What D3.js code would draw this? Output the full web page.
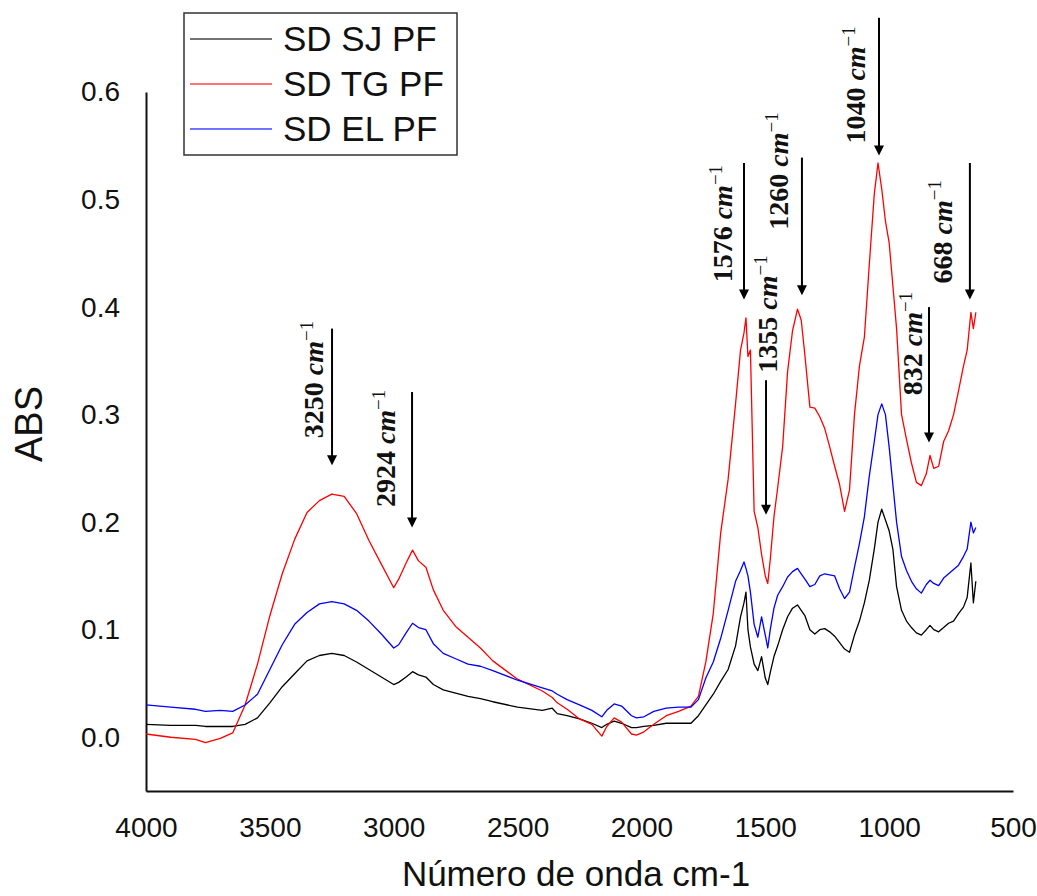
<!DOCTYPE html>
<html>
<head>
<meta charset="utf-8">
<script src="https://cdn.jsdelivr.net/npm/d3@7"></script>
<style>
  body { margin: 0; background: #fff; }
</style>
</head>
<body>
<div id="ftir-chart"></div>
<script>
// Wavenumbers (cm-1) shared by the three spectra
const wavenumbers = [4000, 3900, 3800, 3760, 3700, 3650, 3600, 3550, 3500, 3450, 3400, 3350, 3300, 3250, 3200, 3150, 3100, 3050, 3000, 2980, 2950, 2924, 2900, 2870, 2840, 2800, 2750, 2700, 2650, 2600, 2500, 2400, 2360, 2340, 2300, 2250, 2200, 2160, 2140, 2110, 2080, 2040, 2020, 1990, 1950, 1900, 1850, 1800, 1770, 1740, 1710, 1680, 1650, 1620, 1600, 1586, 1578, 1570, 1560, 1545, 1530, 1515, 1500, 1490, 1480, 1465, 1450, 1430, 1410, 1390, 1370, 1355, 1340, 1320, 1300, 1280, 1260, 1240, 1220, 1200, 1180, 1160, 1140, 1120, 1100, 1080, 1060, 1045, 1030, 1015, 1000, 985, 970, 950, 930, 910, 890, 870, 850, 835, 820, 800, 780, 760, 740, 720, 700, 685, 670, 660, 650];

// Absorbance of each sample
const sdSJ = [0.012, 0.011, 0.011, 0.010, 0.010, 0.010, 0.012, 0.018, 0.032, 0.047, 0.059, 0.071, 0.076, 0.078, 0.076, 0.070, 0.063, 0.056, 0.049, 0.051, 0.056, 0.061, 0.058, 0.056, 0.049, 0.044, 0.041, 0.038, 0.036, 0.033, 0.028, 0.025, 0.027, 0.022, 0.020, 0.017, 0.013, 0.009, 0.012, 0.015, 0.013, 0.009, 0.009, 0.010, 0.011, 0.013, 0.013, 0.013, 0.020, 0.030, 0.040, 0.052, 0.063, 0.085, 0.112, 0.125, 0.135, 0.100, 0.084, 0.068, 0.062, 0.075, 0.055, 0.049, 0.060, 0.075, 0.085, 0.100, 0.112, 0.120, 0.123, 0.118, 0.113, 0.100, 0.096, 0.100, 0.101, 0.098, 0.094, 0.088, 0.082, 0.079, 0.095, 0.108, 0.125, 0.146, 0.175, 0.200, 0.212, 0.202, 0.192, 0.175, 0.140, 0.118, 0.108, 0.102, 0.097, 0.095, 0.100, 0.104, 0.100, 0.098, 0.102, 0.106, 0.108, 0.115, 0.121, 0.130, 0.162, 0.125, 0.145];
const sdTG = [0.003, 0.000, -0.002, -0.005, -0.001, 0.004, 0.030, 0.068, 0.113, 0.152, 0.184, 0.209, 0.220, 0.226, 0.224, 0.208, 0.183, 0.161, 0.139, 0.147, 0.162, 0.174, 0.164, 0.158, 0.137, 0.118, 0.103, 0.093, 0.083, 0.071, 0.054, 0.043, 0.037, 0.032, 0.026, 0.017, 0.012, 0.001, 0.010, 0.018, 0.014, 0.003, 0.002, 0.005, 0.012, 0.020, 0.024, 0.029, 0.038, 0.070, 0.115, 0.190, 0.240, 0.310, 0.360, 0.376, 0.390, 0.354, 0.360, 0.210, 0.195, 0.170, 0.150, 0.143, 0.165, 0.205, 0.232, 0.270, 0.340, 0.378, 0.398, 0.388, 0.355, 0.307, 0.306, 0.298, 0.287, 0.270, 0.252, 0.235, 0.210, 0.230, 0.300, 0.345, 0.372, 0.440, 0.505, 0.534, 0.510, 0.480, 0.460, 0.420, 0.380, 0.300, 0.277, 0.255, 0.237, 0.234, 0.245, 0.262, 0.250, 0.252, 0.275, 0.285, 0.300, 0.322, 0.345, 0.360, 0.395, 0.380, 0.395];
const sdEL = [0.030, 0.028, 0.026, 0.024, 0.025, 0.024, 0.030, 0.040, 0.063, 0.086, 0.105, 0.116, 0.124, 0.126, 0.124, 0.118, 0.108, 0.096, 0.083, 0.086, 0.097, 0.106, 0.102, 0.100, 0.087, 0.078, 0.073, 0.068, 0.066, 0.062, 0.053, 0.046, 0.043, 0.040, 0.035, 0.030, 0.025, 0.019, 0.025, 0.031, 0.029, 0.020, 0.018, 0.019, 0.024, 0.027, 0.028, 0.028, 0.035, 0.055, 0.070, 0.092, 0.118, 0.145, 0.155, 0.163, 0.157, 0.150, 0.135, 0.105, 0.093, 0.112, 0.095, 0.083, 0.100, 0.120, 0.132, 0.140, 0.149, 0.154, 0.157, 0.152, 0.147, 0.140, 0.142, 0.150, 0.152, 0.151, 0.150, 0.138, 0.129, 0.135, 0.158, 0.180, 0.205, 0.243, 0.275, 0.300, 0.310, 0.300, 0.270, 0.235, 0.200, 0.168, 0.155, 0.145, 0.138, 0.134, 0.142, 0.146, 0.143, 0.141, 0.148, 0.152, 0.156, 0.160, 0.168, 0.175, 0.200, 0.190, 0.195];

const seriesNames = ["SD SJ PF", "SD TG PF", "SD EL PF"];
const seriesValues = [sdSJ, sdTG, sdEL];
const seriesColors = ["#000000", "#ff0000", "#0000ff"];

const xTicks = [4000, 3500, 3000, 2500, 2000, 1500, 1000, 500];
const yTicks = [0, 0.1, 0.2, 0.3, 0.4, 0.5, 0.6];

// Peak annotations (arrow position in cm-1, arrow ends and label start in ABS units)
const peakLabels = ["3250", "2924", "1576", "1355", "1260", "1040", "832", "668"];
const arrowWavenumbers = [3249, 2926, 1586, 1497, 1352, 1041, 839, 674];
const arrowTops = [0.380, 0.321, 0.534, 0.332, 0.539, 0.669, 0.400, 0.534];
const arrowTips = [0.253, 0.195, 0.407, 0.207, 0.411, 0.541, 0.274, 0.407];
const labelStarts = [0.278, 0.214, 0.423, 0.339, 0.472, 0.552, 0.318, 0.422];

// horizontal shift (px) of each rotated label's baseline from its arrow
const labelShift = [-9, -17, -12, 11, -14, -14, -7, -18];

// Size and plot area
const width = 1037;
const height = 896;
const plot = { left: 146, right: 1013, top: 92, bottom: 791 };

const svg = d3.select("#ftir-chart")
  .append("svg")
  .attr("width", width)
  .attr("height", height)
  .style("font-family", "'Liberation Sans', Arial, sans-serif");

// Scales: wavenumber axis runs right to left
const x = d3.scaleLinear()
  .domain([4000, 500])
  .range([plot.left, plot.right]);

const y = d3.scaleLinear()
  .domain([-0.05, 0.6])
  .range([plot.bottom, plot.top]);

// Axes
const xAxis = svg.append("g")
  .attr("transform", `translate(0, ${plot.bottom})`)
  .call(d3.axisBottom(x).tickValues(xTicks).tickSize(0).tickPadding(26).tickFormat(d3.format("d")));

const yAxis = svg.append("g")
  .attr("transform", `translate(${plot.left}, 0)`)
  .call(d3.axisLeft(y).tickValues(yTicks).tickSize(0).tickPadding(26).tickFormat(d3.format(".1f")));

[xAxis, yAxis].forEach(ax => {
  ax.select(".domain").attr("stroke", "#111").attr("stroke-width", 2);
  ax.selectAll("text")
    .attr("fill", "#111")
    .style("font-family", "'Liberation Sans', Arial, sans-serif")
    .style("font-size", "28px");
});

// Axis titles
svg.append("text")
  .attr("x", 576)
  .attr("y", 886)
  .attr("text-anchor", "middle")
  .style("font-size", "35px")
  .attr("fill", "#111")
  .text("Número de onda cm-1");

svg.append("text")
  .attr("transform", "translate(42, 424) rotate(-90)")
  .attr("text-anchor", "middle")
  .style("font-size", "38px")
  .attr("fill", "#111")
  .text("ABS");

// Spectra
const line = d3.line()
  .x((d, i) => x(wavenumbers[i]))
  .y(d => y(d));

svg.append("g")
  .selectAll("path")
  .data(seriesValues)
  .join("path")
  .attr("d", d => line(d))
  .attr("fill", "none")
  .attr("stroke", (d, i) => seriesColors[i])
  .attr("stroke-width", 1.3)
  .attr("stroke-linejoin", "round");

// Peak arrows and labels
const notes = svg.append("g")
  .selectAll("g")
  .data(peakLabels)
  .join("g");

notes.append("line")
  .attr("x1", (d, i) => x(arrowWavenumbers[i]))
  .attr("x2", (d, i) => x(arrowWavenumbers[i]))
  .attr("y1", (d, i) => y(arrowTops[i]))
  .attr("y2", (d, i) => y(arrowTips[i]) - 8)
  .attr("stroke", "#000")
  .attr("stroke-width", 2);

notes.append("path")
  .attr("d", (d, i) => {
    const ax = x(arrowWavenumbers[i]);
    const ay = y(arrowTips[i]);
    return `M${ax - 5},${ay - 10} L${ax + 5},${ay - 10} L${ax},${ay} Z`;
  })
  .attr("fill", "#000");

const labels = notes.append("text")
  .attr("transform", (d, i) => `translate(${x(arrowWavenumbers[i]) + labelShift[i]}, ${y(labelStarts[i])}) rotate(-90)`)
  .attr("text-anchor", "start")
  .style("font-family", "'Liberation Serif', 'Times New Roman', serif")
  .style("font-weight", "bold")
  .style("font-size", "28px")
  .attr("fill", "#111");

labels.append("tspan").text(d => d + " ");
labels.append("tspan").style("font-style", "italic").text("cm");
labels.append("tspan")
  .attr("dy", "-0.55em")
  .style("font-size", "19px")
  .style("font-weight", "normal")
  .text("\u22121");

// Legend
const legend = svg.append("g");

legend.append("rect")
  .attr("x", 184)
  .attr("y", 13)
  .attr("width", 273)
  .attr("height", 142)
  .attr("fill", "#fff")
  .attr("stroke", "#333")
  .attr("stroke-width", 1.5);

const legendRows = legend.selectAll("g.row")
  .data(seriesNames)
  .join("g")
  .attr("class", "row")
  .attr("transform", (d, i) => `translate(0, ${39 + i * 45})`);

legendRows.append("line")
  .attr("x1", 190)
  .attr("x2", 272)
  .attr("stroke", (d, i) => seriesColors[i])
  .attr("stroke-opacity", 0.55)
  .attr("stroke-width", 2);

legendRows.append("text")
  .attr("x", 283)
  .attr("y", 12)
  .style("font-size", "35px")
  .attr("fill", "#111")
  .text(d => d);
</script>
</body>
</html>
